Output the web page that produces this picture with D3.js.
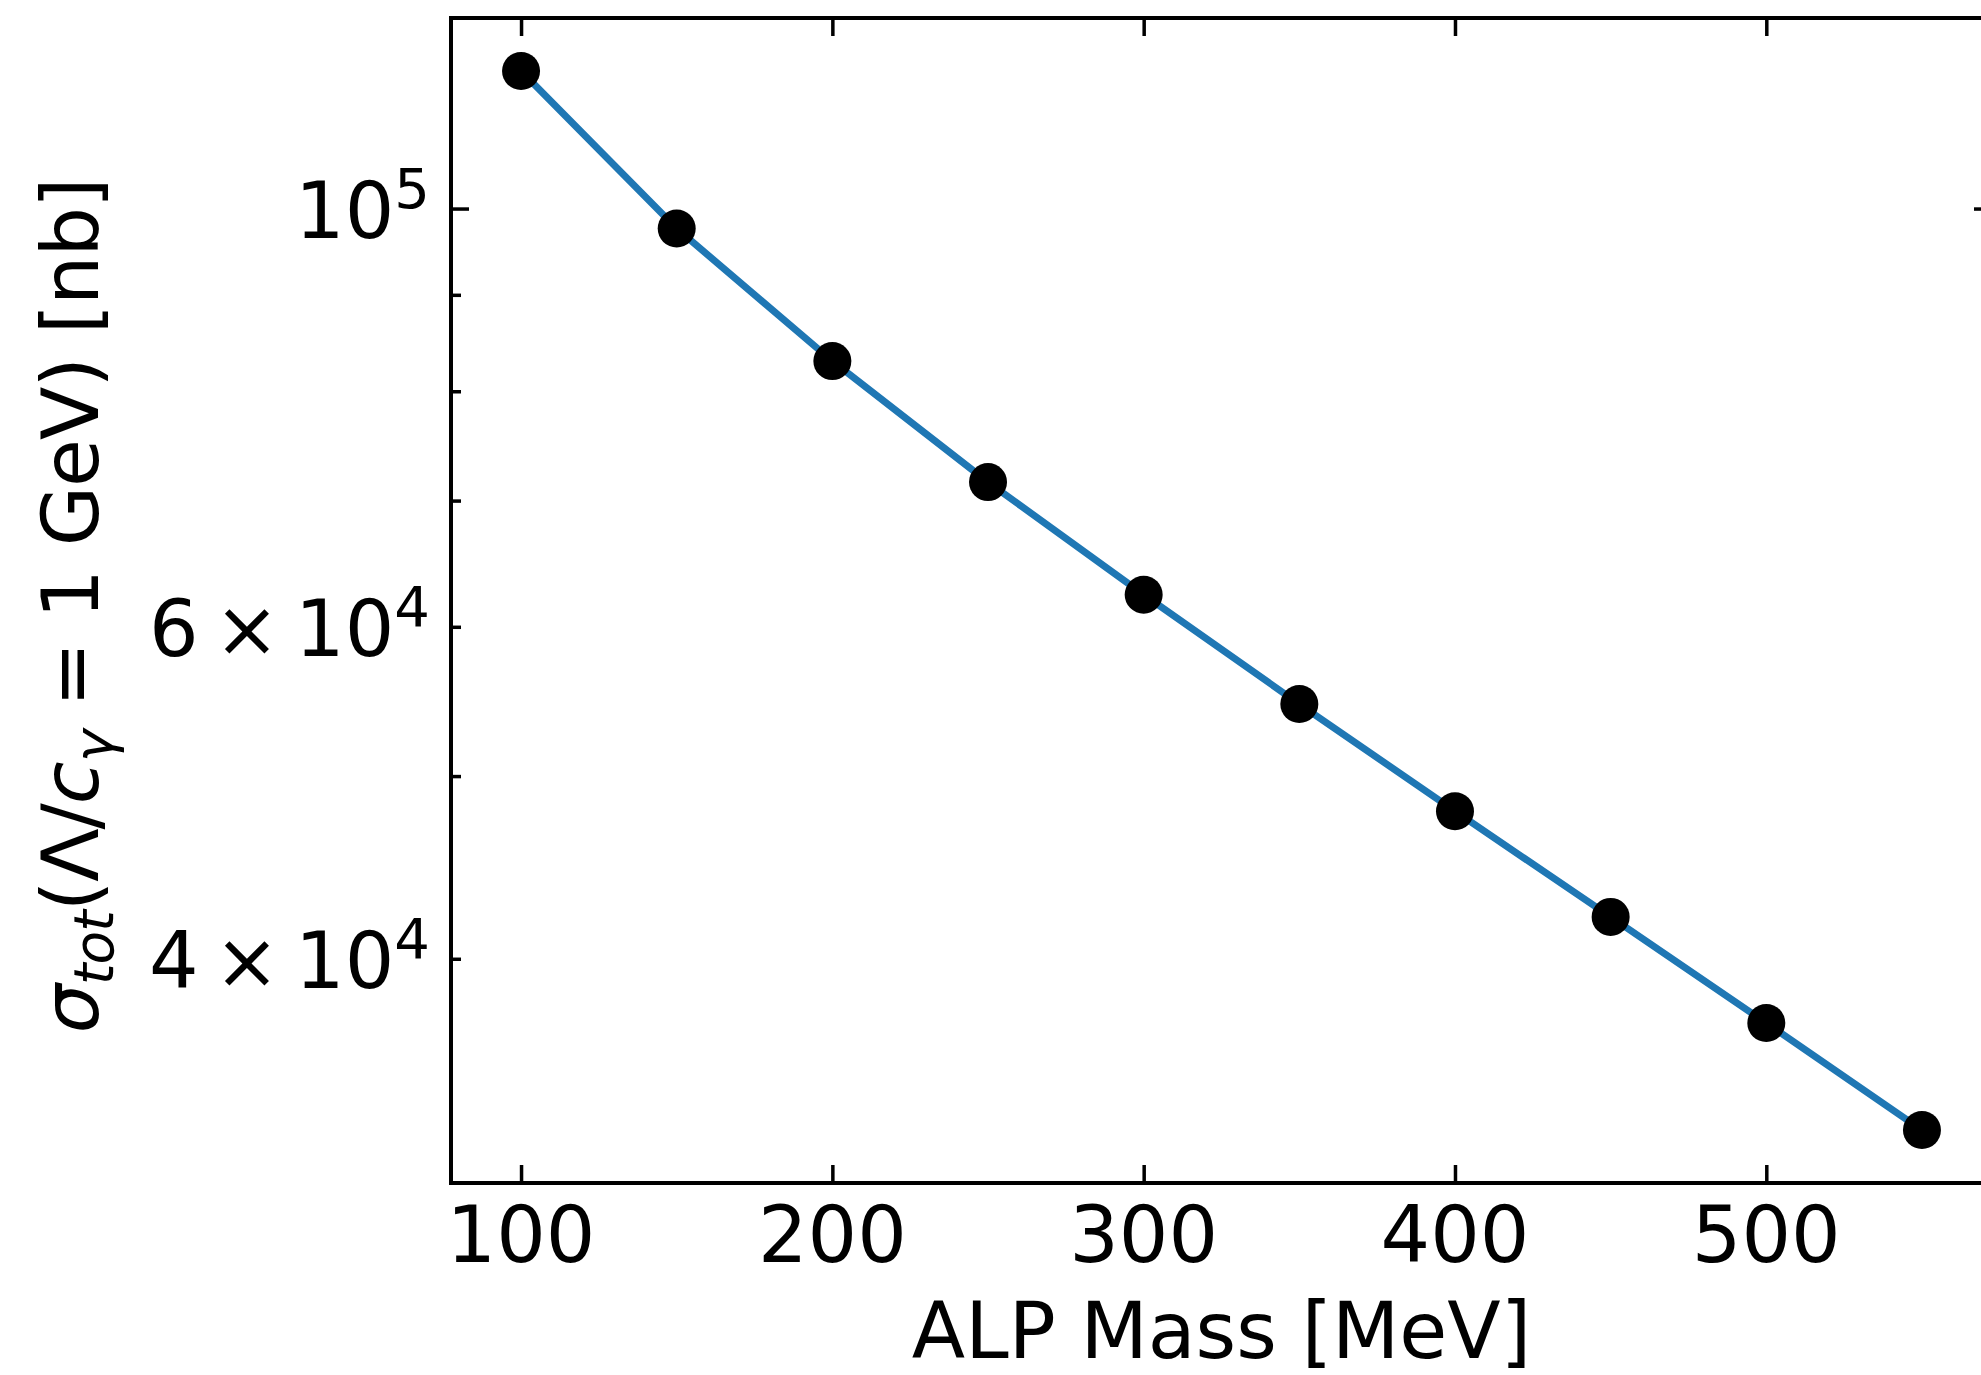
<!DOCTYPE html>
<html>
<head>
<meta charset="utf-8">
<script src="https://cdn.jsdelivr.net/npm/d3@7"></script>
<style>
  body { margin: 0; background: white; }
  svg { display: block; font-family: "DejaVu Sans", sans-serif; }
  .axis path { display: none; }
  .axis line { stroke: black; stroke-width: 3.5; }
</style>
</head>
<body>
<svg id="chart" width="1981" height="1375"></svg>
<script>
// ALP mass [MeV] vs total cross section [nb]
var masses = [100, 150, 200, 250, 300, 350, 400, 450, 500, 550];
var sigmaTot = [118300, 97600, 83000, 71600, 62400, 54600, 47900, 42100, 36980, 32450];

var xTicks = [100, 200, 300, 400, 500, 600];
var yMajor = [1e5];
var yMinor = [4e4, 5e4, 6e4, 7e4, 8e4, 9e4];
// labelled ticks: mantissa, exponent
var yLabelVals = [1e5, 6e4, 4e4];
var yLabelMant = ['', '6', '4'];
var yLabelExp = ['5', '4', '4'];

var svg = d3.select('#chart');
var box = {l: 451, r: 1992, t: 18, b: 1183};
var fs = 78;

// matplotlib-like 5% margins
var xr = d3.extent(masses), xm = (xr[1] - xr[0]) * 0.05;
var x = d3.scaleLinear().domain([xr[0] - xm, xr[1] + xm]).range([box.l, box.r]);
var ly = d3.extent(sigmaTot).map(Math.log10), lm = (ly[1] - ly[0]) * 0.05;
var y = d3.scaleLog().domain([Math.pow(10, ly[0] - lm), Math.pow(10, ly[1] + lm)]).range([box.b, box.t]);

// ticks (all pointing inward)
svg.append('g').attr('class', 'axis')
    .attr('transform', 'translate(0,' + box.b + ')')
    .call(d3.axisBottom(x).tickValues(xTicks).tickSize(-18).tickFormat(''));
svg.append('g').attr('class', 'axis')
    .attr('transform', 'translate(0,' + box.t + ')')
    .call(d3.axisTop(x).tickValues(xTicks).tickSize(-18).tickFormat(''));
svg.append('g').attr('class', 'axis')
    .attr('transform', 'translate(' + box.l + ',0)')
    .call(d3.axisLeft(y).tickValues(yMajor).tickSize(-18).tickFormat(''));
svg.append('g').attr('class', 'axis')
    .attr('transform', 'translate(' + box.l + ',0)')
    .call(d3.axisLeft(y).tickValues(yMinor).tickSize(-10).tickFormat(''));
svg.append('g').attr('class', 'axis')
    .attr('transform', 'translate(' + box.r + ',0)')
    .call(d3.axisRight(y).tickValues(yMajor).tickSize(-18).tickFormat(''));
svg.append('g').attr('class', 'axis')
    .attr('transform', 'translate(' + box.r + ',0)')
    .call(d3.axisRight(y).tickValues(yMinor).tickSize(-10).tickFormat(''));

// frame
svg.append('rect')
    .attr('x', box.l).attr('y', box.t)
    .attr('width', box.r - box.l).attr('height', box.b - box.t)
    .attr('fill', 'none').attr('stroke', 'black').attr('stroke-width', 4);

// x tick labels
svg.append('g').selectAll('text')
    .data(xTicks.filter(function (d) { return x(d) < 1981; }))
    .enter().append('text')
    .attr('x', function (d) { return x(d); })
    .attr('y', 1262)
    .attr('text-anchor', 'middle')
    .style('font-size', fs + 'px')
    .text(function (d) { return d; });

// y tick labels with superscript
yLabelVals.forEach(function (v, i) {
    var t = svg.append('text')
        .attr('x', 430)
        .attr('y', y(v) + 29)
        .attr('text-anchor', 'end')
        .style('font-size', fs + 'px');
    t.append('tspan').text(yLabelMant[i] ? yLabelMant[i] + '\u2009\u00d7\u200910' : '10');
    t.append('tspan').attr('dy', -30).style('font-size', '56px').text(yLabelExp[i]);
});

// curve
var line = d3.line()
    .x(function (d, i) { return x(masses[i]); })
    .y(function (d) { return y(d); });
svg.append('path')
    .datum(sigmaTot)
    .attr('d', line)
    .attr('fill', 'none')
    .attr('stroke', '#1f77b4')
    .attr('stroke-width', 7);

svg.append('g').selectAll('circle')
    .data(sigmaTot)
    .enter().append('circle')
    .attr('cx', function (d, i) { return x(masses[i]); })
    .attr('cy', function (d) { return y(d); })
    .attr('r', 19)
    .attr('fill', 'black');

// axis labels
svg.append('text')
    .attr('x', (box.l + box.r) / 2)
    .attr('y', 1358)
    .attr('text-anchor', 'middle')
    .style('font-size', fs + 'px')
    .text('ALP Mass [MeV]');

var yl = svg.append('text')
    .attr('transform', 'translate(98,606) rotate(-90)')
    .attr('text-anchor', 'middle')
    .style('font-size', fs + 'px')
    .style('letter-spacing', '-1px');
yl.append('tspan').style('font-style', 'italic').text('\u03c3');
yl.append('tspan').attr('dy', 15).style('font-style', 'italic').style('font-size', '55px').text('tot');
yl.append('tspan').attr('dy', -15).text('(\u039b/');
yl.append('tspan').style('font-style', 'italic').text('c');
yl.append('tspan').attr('dy', 15).style('font-style', 'italic').style('font-size', '55px').text('\u03b3');
yl.append('tspan').attr('dy', -15).text(' = 1 GeV) [nb]');
</script>
</body>
</html>
